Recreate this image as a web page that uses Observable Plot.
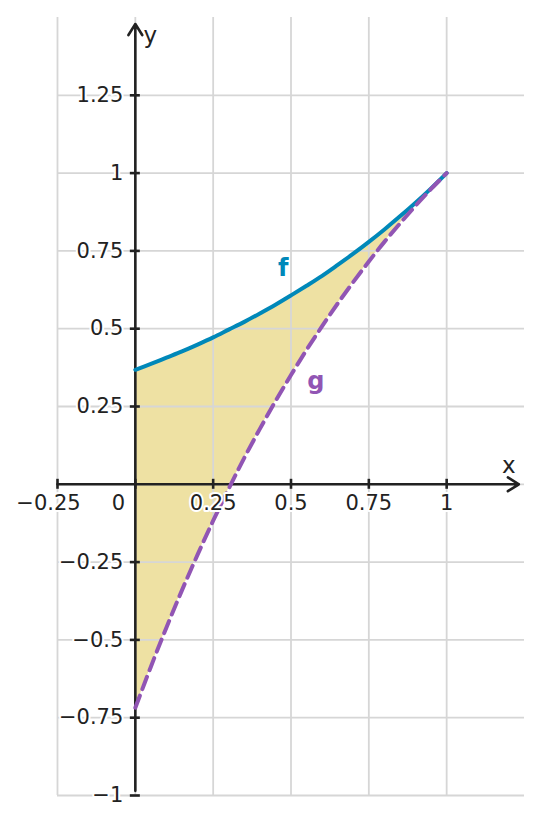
<!DOCTYPE html>
<html>
<head>
<meta charset="utf-8">
<script src="https://cdn.jsdelivr.net/npm/d3@7"></script>
<script src="https://cdn.jsdelivr.net/npm/@observablehq/plot@0.6"></script>
<style>
  html, body { margin: 0; padding: 0; background: #fff; }
  #chart svg text { paint-order: stroke; }
</style>
</head>
<body>
<div id="chart"></div>
<script>
// sample positions along x
const xs = [0, 0.05, 0.1, 0.15, 0.2, 0.25, 0.3, 0.35, 0.4, 0.45, 0.5,
            0.55, 0.6, 0.65, 0.7, 0.75, 0.8, 0.85, 0.9, 0.95, 1];
// curve f (solid blue)
const fValues = [0.368, 0.387, 0.407, 0.427, 0.449, 0.472, 0.497, 0.522, 0.549, 0.577, 0.607,
                 0.638, 0.670, 0.705, 0.741, 0.779, 0.819, 0.861, 0.905, 0.951, 1.000];
// curve g (dashed purple)
const gValues = [-0.718, -0.586, -0.460, -0.340, -0.226, -0.117, -0.014, 0.085, 0.178, 0.267, 0.351,
                 0.432, 0.508, 0.581, 0.650, 0.716, 0.779, 0.838, 0.895, 0.949, 1.000];

// tick values and labels
const xTicks = [-0.25, 0, 0.25, 0.5, 0.75, 1];
const xTickLabels = ["−0.25", "0", "0.25", "0.5", "0.75", "1"];
const yTicks = [-1, -0.75, -0.5, -0.25, 0.25, 0.5, 0.75, 1, 1.25];
const yTickLabels = ["−1", "−0.75", "−0.5", "−0.25", "0.25", "0.5", "0.75", "1", "1.25"];
const xGrid = [-0.25, 0, 0.25, 0.5, 0.75, 1];
const yGrid = [-1, -0.75, -0.5, -0.25, 0, 0.25, 0.5, 0.75, 1, 1.25];

// curve name labels
const curveNames = ["f", "g"];
const curveLabelX = [0.475, 0.58];
const curveLabelY = [0.693, 0.332];

const data = xs.map((x, i) => ({x, f: fValues[i], g: gValues[i]}));
const xTickData = xTicks.map((v, i) => ({v, label: xTickLabels[i]}));
const yTickData = yTicks.map((v, i) => ({v, label: yTickLabels[i]}));
const curveLabels = curveNames.map((n, i) => ({n, x: curveLabelX[i], y: curveLabelY[i]}));

const C_F = "#0088b9", C_G = "#9155b4", C_FILL = "#eee1a3", C_AX = "#222222", C_GRID = "#d6d6d6";
const font = 21;

const plot = Plot.plot({
  width: 542,
  height: 823,
  marginLeft: 57,
  marginRight: 18,
  marginTop: 17,
  marginBottom: 28,
  x: {domain: [-0.25, 1.25], axis: null},
  y: {domain: [-1, 1.5], axis: null},
  style: {fontFamily: "DejaVu Sans", fontSize: font + "px", background: "#fff", overflow: "visible"},
  marks: [
    Plot.areaY(data, {x: "x", y1: "g", y2: "f", fill: C_FILL, curve: "catmull-rom"}),
    Plot.ruleX(xGrid, {stroke: C_GRID, strokeWidth: 1.8}),
    Plot.ruleY(yGrid, {stroke: C_GRID, strokeWidth: 1.8}),
    // axes with arrows
    Plot.arrow([{x1: -0.25, y1: 0, x2: 1.232, y2: 0}], {x1: "x1", y1: "y1", x2: "x2", y2: "y2",
      stroke: C_AX, strokeWidth: 2.6, headLength: 7.5, headAngle: 64}),
    Plot.arrow([{x1: 0, y1: -0.985, x2: 0, y2: 1.479}], {x1: "x1", y1: "y1", x2: "x2", y2: "y2",
      stroke: C_AX, strokeWidth: 2.6, headLength: 7.5, headAngle: 64}),
    // tick marks
    Plot.ruleX(xTicks, {y1: 0, y2: 0, insetTop: -5, insetBottom: -5, stroke: C_AX, strokeWidth: 2.6}),
    Plot.ruleY(yTicks, {x1: 0, x2: 0, insetLeft: -5, insetRight: -5, stroke: C_AX, strokeWidth: 2.6}),
    // curves
    Plot.line(data, {x: "x", y: "f", stroke: C_F, strokeWidth: 4, curve: "catmull-rom", strokeLinecap: "round"}),
    Plot.line(data, {x: "x", y: "g", stroke: C_G, strokeWidth: 4, curve: "catmull-rom", strokeDasharray: "13,7"}),
    // tick labels
    Plot.text(xTickData.filter(d => d.v > 0), {x: "v", y: 0, text: "label", dy: 19,
      fill: C_AX, stroke: "white", strokeWidth: 4, fontSize: font}),
    Plot.text(xTickData.filter(d => d.v < 0), {x: "v", y: 0, text: "label", dy: 19, dx: -9,
      fill: C_AX, stroke: "white", strokeWidth: 4, fontSize: font}),
    Plot.text(xTickData.filter(d => d.v === 0), {x: "v", y: 0, text: "label", dy: 19, dx: -17,
      fill: C_AX, stroke: "white", strokeWidth: 4, fontSize: font}),
    Plot.text(yTickData, {x: 0, y: "v", text: "label", dx: -12, textAnchor: "end",
      fill: C_AX, stroke: "white", strokeWidth: 4, fontSize: font}),
    // axis names
    Plot.text(["x"], {x: 1.2, y: 0, text: d => d, dy: -19, fill: C_AX, fontSize: 23}),
    Plot.text(["y"], {x: 0, y: 1.5, text: d => d, dx: 15, dy: 18, fill: C_AX, fontSize: 23}),
    // curve names
    Plot.text(curveLabels, {x: "x", y: "y", text: "n", fill: d => d.n === "f" ? C_F : C_G,
      fontWeight: "bold", fontSize: 24})
  ]
});
document.getElementById("chart").appendChild(plot);
</script>
</body>
</html>
